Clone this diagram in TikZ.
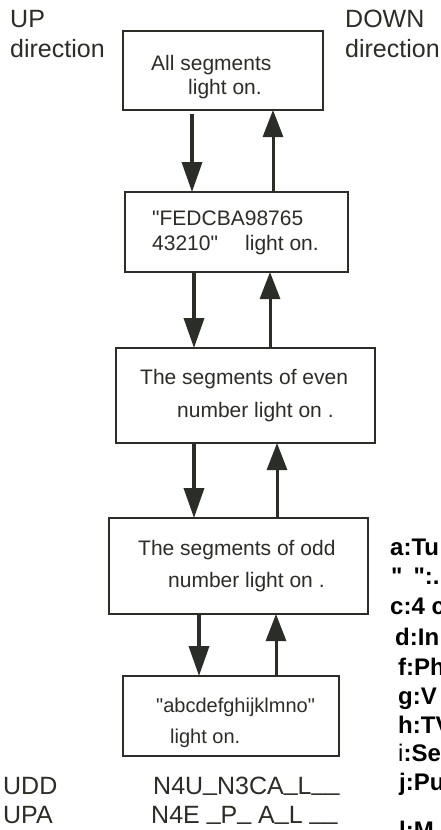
\documentclass[tikz,border=0pt]{standalone}
\usepackage{fontspec}
\setmainfont{Liberation Sans}[Ligatures=TeXOff]
\usetikzlibrary{arrows.meta}
\definecolor{ink}{HTML}{2B2D28}
\newcommand\usc{\raisebox{0.14em}{\_}}
\begin{document}
\begin{tikzpicture}[x=1pt,y=-1pt,
  box/.style={draw=ink, line width=2.8pt, inner sep=0pt, outer sep=0pt},
  boxtxt/.style={anchor=base west, inner sep=0pt, text=ink, font=\fontsize{21}{25}\selectfont},
  lbl/.style={anchor=base west, inner sep=0pt, text=ink, font=\fontsize{25}{30}\selectfont},
  side/.style={anchor=base west, inner sep=0pt, text=black, font=\fontsize{24}{28}\selectfont\bfseries},
  dnarrow/.style={draw=ink, line width=3.6pt, -{Triangle[width=20pt,length=30pt]}},
  uparrow/.style={draw=ink, line width=3pt, -{Triangle[width=20pt,length=27pt]}}]
\useasboundingbox (0,0) rectangle (441,830);
\clip (0,0) rectangle (441,830);
\fill[white] (0,0) rectangle (441,830);

% boxes
\node[box, minimum width=200pt, minimum height=79pt] (b1) at (223,70.5) {};
\node[box, minimum width=223pt, minimum height=80pt] (b2) at (236.5,232) {};
\node[box, minimum width=259pt, minimum height=95pt] (b3) at (245.5,395.5) {};
\node[box, minimum width=259pt, minimum height=96pt] (b4) at (238.5,566) {};
\node[box, minimum width=216pt, minimum height=80pt] (b5) at (231,716) {};

% box texts
\node[boxtxt] (t1a) at (151,70) {All segments};
\node[boxtxt] (t1b) at (188,94) {light on.};
\node[boxtxt] (t2a) at (152,225) {"FEDCBA98765};
\node[boxtxt] (t2b) at (152,250) {43210"};
\node[boxtxt] (t2c) at (245,250) {light on.};
\node[boxtxt] (t3a) at (140,384) {The segments of even};
\node[boxtxt] (t3b) at (177,417) {number light on .};
\node[boxtxt] (t4a) at (138,555) {The segments of odd};
\node[boxtxt] (t4b) at (168,587) {number light on .};
\node[boxtxt, font=\fontsize{20}{24}\selectfont] (t5a) at (156,712) {"abcdefghijklmno"};
\node[boxtxt, font=\fontsize{20}{24}\selectfont] (t5b) at (170,743) {light on.};

% labels
\node[lbl] (up1) at (10,27) {UP};
\node[lbl] (up2) at (10,57) {direction};
\node[lbl] (dw1) at (345,27) {DOWN};
\node[lbl] (dw2) at (345,57) {direction};

\node[lbl] (udd) at (3,794) {UDD};
\node[lbl] (upa) at (3,823) {UPA};
\node[lbl] (c1) at (153,794) {N4U\usc N3CA\usc L\usc\usc};
\node[lbl] (c2) at (151,823) {N4E \usc P\usc{} A\usc L \usc\usc};

% side list
\node[side] (sa) at (390,555) {a:Tu};
\node[side] (sb) at (391,584) {"\hspace{11pt}":.};
\node[side] (sc) at (390,614) {c:4 c};
\node[side] (sd) at (395,645) {d:In};
\node[side] (sf) at (398,675) {f:Ph};
\node[side] (sg) at (398,704) {g:V};
\node[side] (sh) at (398,733) {h:TV};
\node[side] (si) at (398,761) {{\mdseries i}:Se};
\node[side] (sj) at (399,790) {j:Pu};
\node[side] (sl) at (399,838) {l:M};

% arrow columns
\coordinate (d1) at (192,0); \coordinate (u1) at (273,0);
\coordinate (d2) at (194,0); \coordinate (u2) at (270,0);
\coordinate (d3) at (194,0); \coordinate (u3) at (277,0);
\coordinate (d4) at (199,0); \coordinate (u4) at (276,0);

\draw[dnarrow] ([yshift=-4pt]b1.south -| d1) -- (b2.north -| d1);
\draw[uparrow] (b2.north -| u1) -- (b1.south -| u1);
\draw[dnarrow] (b2.south -| d2) -- (b3.north -| d2);
\draw[uparrow] (b3.north -| u2) -- (b2.south -| u2);
\draw[dnarrow] (b3.south -| d3) -- (b4.north -| d3);
\draw[uparrow] (b4.north -| u3) -- (b3.south -| u3);
\draw[dnarrow] (b4.south -| d4) -- (b5.north -| d4);
\draw[uparrow] (b5.north -| u4) -- (b4.south -| u4);
\end{tikzpicture}
\end{document}
